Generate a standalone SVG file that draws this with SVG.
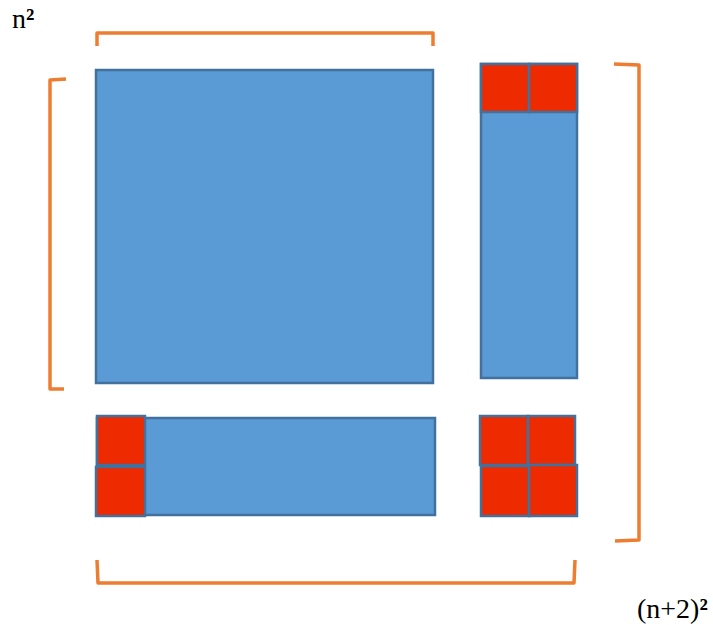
<svg xmlns="http://www.w3.org/2000/svg" width="713" height="625" viewBox="0 0 713 625">
<style>
.blue{fill:#5B9BD5;stroke:#41719C;stroke-width:2.5}
.red{fill:#EE2A00;stroke:#41719C;stroke-width:2.5}
.br{fill:none;stroke:#ED7D31;stroke-width:3.5;stroke-linejoin:round}
.lbl{font-family:"Liberation Serif","Times New Roman",serif;font-size:28px;fill:#000}
.sup{font-weight:bold}
</style>
<rect width="713" height="625" fill="#fff"/>
<g id="brackets">
<path class="br" d="M97,46 L97,33 L433,33 L433,46"/>
<path class="br" d="M66,79 L50,80 L50,389 L64,389"/>
<path class="br" d="M614,64 L639,65 L639,540 L615,541"/>
<path class="br" d="M97,560 L98,583 L574,583 L575,560"/>
</g>
<g id="main"><rect class="blue" x="96" y="70" width="337" height="313"/></g>
<g id="right-column">
<rect class="blue" x="481" y="64" width="96" height="314"/>
<rect class="red" x="481" y="64" width="48" height="48"/>
<rect class="red" x="529" y="64" width="48" height="48"/>
</g>
<g id="bottom-strip">
<rect class="blue" x="97" y="418" width="338" height="97"/>
<rect class="red" x="97" y="416" width="48" height="49"/>
<rect class="red" x="96" y="467" width="49" height="49"/>
</g>
<g id="corner">
<rect class="red" x="480" y="416" width="48" height="49"/>
<rect class="red" x="528" y="416" width="47" height="49"/>
<rect class="red" x="481" y="466" width="48" height="50"/>
<rect class="red" x="529" y="465" width="48" height="51"/>
</g>
<text class="lbl" x="12" y="28">n<tspan class="sup">²</tspan></text>
<text class="lbl" x="637" y="618">(n+2)<tspan class="sup">²</tspan></text>
</svg>
